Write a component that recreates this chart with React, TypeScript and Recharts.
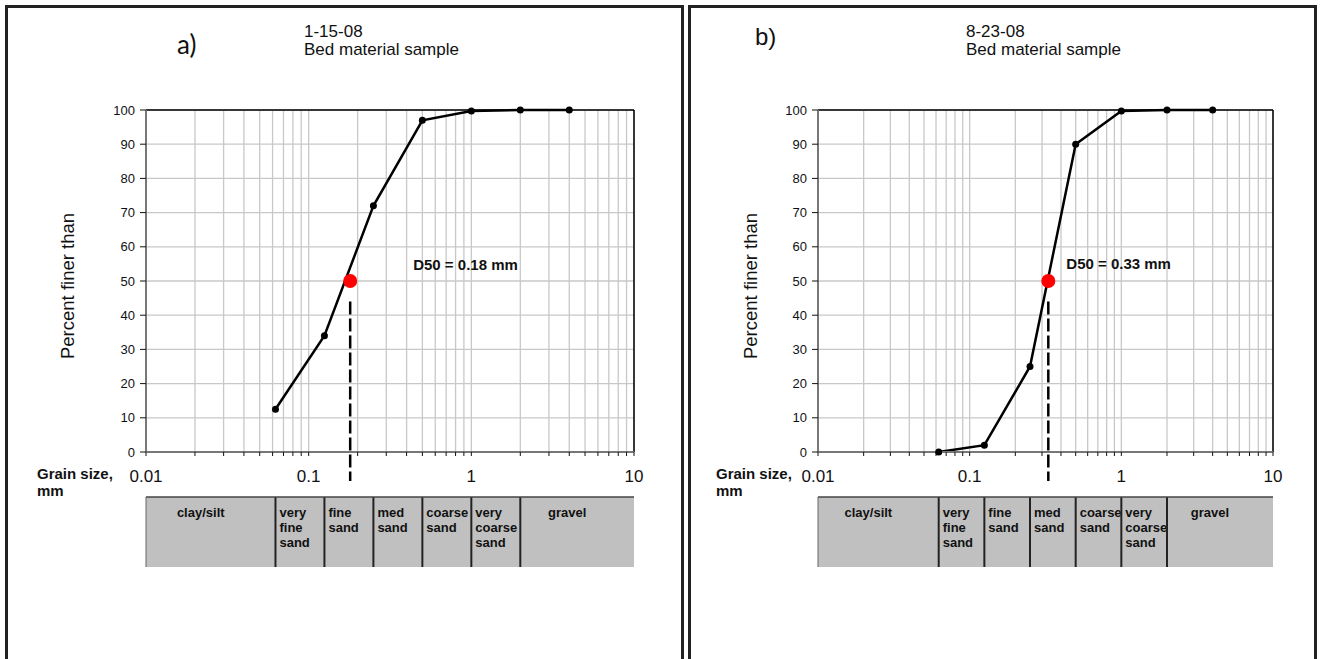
import React from "react";
import {
  ComposedChart,
  Line,
  XAxis,
  YAxis,
  CartesianGrid,
  ReferenceLine,
  ReferenceDot,
  ReferenceArea,
} from "recharts";

const FONT = '"Liberation Sans", Arial, sans-serif';

// sieve sizes (mm) and percent finer for the two bed material samples
const sieveSizes = [0.0625, 0.125, 0.25, 0.5, 1, 2, 4];
const finerJan = [12.5, 34, 72, 97, 99.7, 100, 100];
const finerAug = [0, 2, 25, 90, 99.7, 100, 100];
const d50Jan = 0.18;
const d50Aug = 0.33;

const sizeTicks = [
  0.01, 0.02, 0.03, 0.04, 0.05, 0.06, 0.07, 0.08, 0.09,
  0.1, 0.2, 0.3, 0.4, 0.5, 0.6, 0.7, 0.8, 0.9,
  1, 2, 3, 4, 5, 6, 7, 8, 9, 10,
];
const decadeTicks = [0.01, 0.1, 1, 10];
const pctTicks = [0, 10, 20, 30, 40, 50, 60, 70, 80, 90, 100];

// grain size classes, edges in mm
const classEdges = [0.01, 0.0625, 0.125, 0.25, 0.5, 1, 2, 10];
const classLabels = [
  ["clay/silt"],
  ["very", "fine", "sand"],
  ["fine", "sand"],
  ["med", "sand"],
  ["coarse", "sand"],
  ["very", "coarse", "sand"],
  ["gravel"],
];

type PanelProps = {
  finer: number[];
  d50: number;
  left: number;
  width: number;
  plotLeft: number;
  plotRight: number;
  yLabelX: number;
  d50Dx: number;
  d50Dy: number;
};

function cellLabel(lines: string[]) {
  return (props: any) => {
    const { x, y, width } = props.viewBox;
    const wide = width > 80;
    const tx = wide ? x + width / 2 - 10 : x + 4;
    return (
      <text
        x={tx}
        y={y + 20}
        textAnchor={wide ? "middle" : "start"}
        fontFamily={FONT}
        fontWeight="bold"
        fontSize={13}
        fill="#111"
      >
        {lines.map((l, i) => (
          <tspan key={i} x={tx} dy={i === 0 ? 0 : 15}>
            {l}
          </tspan>
        ))}
      </text>
    );
  };
}

function GrainPanel(p: PanelProps) {
  const rows = sieveSizes.map((s, i) => ({ size: s, pct: p.finer[i] }));
  const edgeRows = classEdges.map((e) => ({ x: e, y: 0.5 }));
  const marginLeft = p.plotLeft - p.left - 60;
  const marginRight = p.left + p.width - p.plotRight;
  const lx = p.yLabelX - p.left;
  const yLabel = () => (
    <text
      x={lx}
      y={286}
      transform={`rotate(-90 ${lx} 286)`}
      textAnchor="middle"
      dominantBaseline="central"
      fontFamily={FONT}
      fontSize={18.5}
      fill="#111"
    >
      Percent finer than
    </text>
  );
  const d50Label = (props: any) => {
    const vb = props.viewBox;
    const cx = vb.x + vb.width / 2;
    const cy = vb.y + vb.height / 2;
    return (
      <text
        x={cx + p.d50Dx}
        y={cy + p.d50Dy}
        dominantBaseline="central"
        fontFamily={FONT}
        fontWeight="bold"
        fontSize={15}
        fill="#111"
      >
        {`D50 = ${p.d50} mm`}
      </text>
    );
  };
  return (
    <>
      <div style={{ position: "absolute", left: p.left, top: 0 }}>
        <ComposedChart
          width={p.width}
          height={520}
          data={rows}
          margin={{ top: 110, right: marginRight, bottom: 28, left: marginLeft }}
        >
          <CartesianGrid stroke="#c8c8c8" strokeWidth={1.3} />
          <XAxis
            dataKey="size"
            type="number"
            scale="log"
            domain={[0.01, 10]}
            allowDataOverflow
            ticks={sizeTicks}
            interval={0}
            height={40}
            tickSize={4}
            tickMargin={14}
            tickFormatter={(v: number) => (decadeTicks.includes(v) ? String(v) : "")}
            tick={{ fontSize: 17, fill: "#111", fontFamily: FONT }}
            tickLine={{ stroke: "#111" }}
            axisLine={{ stroke: "#777", strokeWidth: 2 }}
          />
          <YAxis
            type="number"
            domain={[0, 100]}
            ticks={pctTicks}
            interval={0}
            width={60}
            tickSize={6}
            tickMargin={5}
            tick={{ fontSize: 13, fill: "#111", fontFamily: FONT }}
            tickLine={{ stroke: "#111" }}
            axisLine={{ stroke: "#777", strokeWidth: 2 }}
            label={yLabel}
          />
          <ReferenceLine y={100} stroke="#000" strokeWidth={1.5} />
          <ReferenceLine x={10} stroke="#000" strokeWidth={1.5} />
          <ReferenceLine
            segment={[
              { x: p.d50, y: 44 },
              { x: p.d50, y: -8.5 },
            ]}
            ifOverflow="visible"
            stroke="#000"
            strokeWidth={2.5}
            strokeDasharray="13 4"
          />
          <Line
            dataKey="pct"
            type="linear"
            stroke="#000"
            strokeWidth={2.5}
            dot={{ r: 3.5, fill: "#000", stroke: "#000", strokeWidth: 0 }}
            activeDot={false}
            isAnimationActive={false}
          />
          <ReferenceDot
            x={p.d50}
            y={50}
            r={7}
            fill="#ff0000"
            stroke="none"
            label={d50Label}
          />
        </ComposedChart>
      </div>
      <div style={{ position: "absolute", left: p.left, top: 496 }}>
        <ComposedChart
          width={p.width}
          height={71}
          data={edgeRows}
          margin={{ top: 1, right: marginRight, bottom: 0, left: p.plotLeft - p.left }}
        >
          <XAxis
            dataKey="x"
            type="number"
            scale="log"
            domain={[0.01, 10]}
            allowDataOverflow
            hide
            height={0}
          />
          <YAxis type="number" domain={[0, 1]} allowDataOverflow hide width={0} />
          {classLabels.map((lines, i) => (
            <ReferenceArea
              key={i}
              x1={classEdges[i]}
              x2={classEdges[i + 1]}
              y1={0}
              y2={1}
              fill="#c0c0c0"
              fillOpacity={1}
              stroke="none"
              ifOverflow="visible"
              label={cellLabel(lines)}
            />
          ))}
          {classEdges.slice(1, -1).map((e) => (
            <ReferenceLine key={e} x={e} stroke="#222" strokeWidth={2} ifOverflow="visible" />
          ))}
          <ReferenceLine x={0.01} stroke="#666" strokeWidth={1} ifOverflow="visible" />
          <ReferenceLine y={1} stroke="#444" strokeWidth={1.5} ifOverflow="visible" />
          <Line
            dataKey="y"
            stroke="none"
            dot={false}
            activeDot={false}
            isAnimationActive={false}
          />
        </ComposedChart>
      </div>
    </>
  );
}

export default function App() {
  return (
    <div
      style={{
        position: "absolute",
        left: 0,
        top: 0,
        width: 1320,
        height: 659,
        overflow: "hidden",
        background: "#fff",
      }}
    >
      <div
        style={{
          position: "absolute",
          left: 5,
          top: 5,
          width: 679,
          height: 700,
          border: "3px solid #222",
          boxSizing: "border-box",
        }}
      />
      <div
        style={{
          position: "absolute",
          left: 688,
          top: 5,
          width: 629,
          height: 700,
          border: "3px solid #222",
          boxSizing: "border-box",
        }}
      />
      <GrainPanel
        finer={finerJan}
        d50={d50Jan}
        left={0}
        width={684}
        plotLeft={146}
        plotRight={634}
        yLabelX={67}
        d50Dx={63}
        d50Dy={-17}
      />
      <GrainPanel
        finer={finerAug}
        d50={d50Aug}
        left={688}
        width={632}
        plotLeft={818}
        plotRight={1273}
        yLabelX={750}
        d50Dx={18}
        d50Dy={-18}
      />
      <svg
        width={1320}
        height={659}
        style={{ position: "absolute", left: 0, top: 0, pointerEvents: "none" }}
      >
        <g fontFamily={FONT} fill="#111">
          <text x={177} y={54} fontFamily="Lato, sans-serif" fontSize={26}>
            a)
          </text>
          <text x={304} y={37} fontSize={17}>1-15-08</text>
          <text x={304} y={55} fontSize={17}>Bed material sample</text>
          <text x={755} y={45} fontSize={24}>b)</text>
          <text x={966} y={37} fontSize={17}>8-23-08</text>
          <text x={966} y={55} fontSize={17}>Bed material sample</text>
          <text x={37} y={479} fontSize={15} fontWeight="bold">Grain size,</text>
          <text x={37} y={496} fontSize={15} fontWeight="bold">mm</text>
          <text x={716} y={479} fontSize={15} fontWeight="bold">Grain size,</text>
          <text x={716} y={496} fontSize={15} fontWeight="bold">mm</text>
        </g>
      </svg>
    </div>
  );
}
